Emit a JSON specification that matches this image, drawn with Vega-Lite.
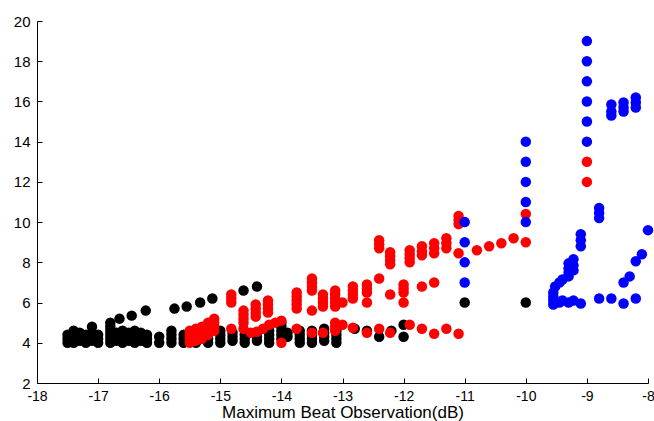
{
  "$schema": "https://vega.github.io/schema/vega-lite/v6.json",
  "width": 611,
  "height": 362,
  "autosize": {"type": "none"},
  "padding": {"left": 37, "top": 21, "right": 6, "bottom": 38},
  "background": "white",
  "config": {"view": {"stroke": null}, "font": "Liberation Sans"},
  "datasets": {
    "black": [
      {"x": -17.5, "y": 4.0}, {"x": -17.5, "y": 4.2}, {"x": -17.5, "y": 4.4},
      {"x": -17.4, "y": 4.0}, {"x": -17.4, "y": 4.2}, {"x": -17.4, "y": 4.4}, {"x": -17.4, "y": 4.6},
      {"x": -17.3, "y": 4.1}, {"x": -17.3, "y": 4.3}, {"x": -17.3, "y": 4.5},
      {"x": -17.2, "y": 4.0}, {"x": -17.2, "y": 4.2}, {"x": -17.2, "y": 4.4},
      {"x": -17.1, "y": 4.1}, {"x": -17.1, "y": 4.3}, {"x": -17.1, "y": 4.5}, {"x": -17.1, "y": 4.8},
      {"x": -17.0, "y": 4.0}, {"x": -17.0, "y": 4.2}, {"x": -17.0, "y": 4.4},
      {"x": -16.8, "y": 4.0}, {"x": -16.8, "y": 4.2}, {"x": -16.8, "y": 4.4}, {"x": -16.8, "y": 4.6}, {"x": -16.8, "y": 4.8}, {"x": -16.8, "y": 5.0},
      {"x": -16.7, "y": 4.1}, {"x": -16.7, "y": 4.3}, {"x": -16.7, "y": 4.5},
      {"x": -16.6, "y": 4.0}, {"x": -16.6, "y": 4.2}, {"x": -16.6, "y": 4.4}, {"x": -16.6, "y": 4.6},
      {"x": -16.5, "y": 4.1}, {"x": -16.5, "y": 4.3}, {"x": -16.5, "y": 4.5},
      {"x": -16.4, "y": 4.0}, {"x": -16.4, "y": 4.2}, {"x": -16.4, "y": 4.4}, {"x": -16.4, "y": 4.6},
      {"x": -16.3, "y": 4.1}, {"x": -16.3, "y": 4.3}, {"x": -16.3, "y": 4.5},
      {"x": -16.2, "y": 4.0}, {"x": -16.2, "y": 4.2}, {"x": -16.2, "y": 4.4},
      {"x": -16.0, "y": 4.0}, {"x": -16.0, "y": 4.3},
      {"x": -15.8, "y": 4.0}, {"x": -15.8, "y": 4.2}, {"x": -15.8, "y": 4.4}, {"x": -15.8, "y": 4.6},
      {"x": -15.6, "y": 4.0}, {"x": -15.6, "y": 4.2}, {"x": -15.6, "y": 4.4},
      {"x": -16.65, "y": 5.2}, {"x": -16.45, "y": 5.35}, {"x": -16.22, "y": 5.6},
      {"x": -15.75, "y": 5.7}, {"x": -15.55, "y": 5.8}, {"x": -15.33, "y": 6.0}, {"x": -15.13, "y": 6.2},
      {"x": -14.62, "y": 6.6}, {"x": -14.4, "y": 6.8},
      {"x": -15.4, "y": 4.0}, {"x": -15.4, "y": 4.2},
      {"x": -15.2, "y": 4.0}, {"x": -15.2, "y": 4.2},
      {"x": -15.0, "y": 4.0}, {"x": -15.0, "y": 4.2}, {"x": -15.0, "y": 4.4}, {"x": -15.0, "y": 4.6},
      {"x": -14.8, "y": 4.1}, {"x": -14.8, "y": 4.3}, {"x": -14.8, "y": 4.5},
      {"x": -14.6, "y": 4.0}, {"x": -14.6, "y": 4.2}, {"x": -14.6, "y": 4.4},
      {"x": -14.4, "y": 4.1}, {"x": -14.4, "y": 4.3}, {"x": -14.4, "y": 4.5},
      {"x": -14.2, "y": 4.0}, {"x": -14.2, "y": 4.2}, {"x": -14.2, "y": 4.4}, {"x": -14.2, "y": 4.6},
      {"x": -14.0, "y": 4.2}, {"x": -14.0, "y": 4.4}, {"x": -14.0, "y": 4.6}, {"x": -14.0, "y": 4.8}, {"x": -14.0, "y": 5.0},
      {"x": -13.9, "y": 4.3}, {"x": -13.9, "y": 4.5},
      {"x": -13.7, "y": 4.0}, {"x": -13.7, "y": 4.2}, {"x": -13.7, "y": 4.4}, {"x": -13.7, "y": 4.6},
      {"x": -13.5, "y": 4.0}, {"x": -13.5, "y": 4.2}, {"x": -13.5, "y": 4.4}, {"x": -13.5, "y": 4.6},
      {"x": -13.3, "y": 4.1}, {"x": -13.3, "y": 4.3}, {"x": -13.3, "y": 4.5}, {"x": -13.3, "y": 4.7},
      {"x": -13.1, "y": 4.0}, {"x": -13.1, "y": 4.2}, {"x": -13.1, "y": 4.4}, {"x": -13.1, "y": 4.6}, {"x": -13.1, "y": 4.8},
      {"x": -12.8, "y": 4.7}, {"x": -12.6, "y": 4.6}, {"x": -12.4, "y": 4.3}, {"x": -12.2, "y": 4.6},
      {"x": -12.0, "y": 4.9}, {"x": -12.0, "y": 4.3},
      {"x": -11.0, "y": 6.0}, {"x": -10.0, "y": 6.0}
    ],
    "red": [
      {"x": -15.5, "y": 4.0}, {"x": -15.5, "y": 4.2}, {"x": -15.5, "y": 4.4}, {"x": -15.5, "y": 4.6},
      {"x": -15.4, "y": 4.1}, {"x": -15.4, "y": 4.3}, {"x": -15.4, "y": 4.5}, {"x": -15.4, "y": 4.7},
      {"x": -15.3, "y": 4.2}, {"x": -15.3, "y": 4.4}, {"x": -15.3, "y": 4.6}, {"x": -15.3, "y": 4.8},
      {"x": -15.2, "y": 4.4}, {"x": -15.2, "y": 4.6}, {"x": -15.2, "y": 4.8}, {"x": -15.2, "y": 5.0},
      {"x": -15.1, "y": 4.6}, {"x": -15.1, "y": 4.8}, {"x": -15.1, "y": 5.0}, {"x": -15.1, "y": 5.2},
      {"x": -14.82, "y": 6.0}, {"x": -14.82, "y": 6.2}, {"x": -14.82, "y": 6.4}, {"x": -14.82, "y": 4.7},
      {"x": -14.62, "y": 5.0}, {"x": -14.62, "y": 5.2}, {"x": -14.62, "y": 5.4}, {"x": -14.62, "y": 5.6}, {"x": -14.62, "y": 4.7},
      {"x": -14.42, "y": 5.3}, {"x": -14.42, "y": 5.5}, {"x": -14.42, "y": 5.7}, {"x": -14.42, "y": 5.9},
      {"x": -14.22, "y": 5.5}, {"x": -14.22, "y": 5.7}, {"x": -14.22, "y": 5.9}, {"x": -14.22, "y": 6.1},
      {"x": -14.5, "y": 4.5}, {"x": -14.4, "y": 4.55}, {"x": -14.3, "y": 4.7}, {"x": -14.2, "y": 4.9},
      {"x": -14.1, "y": 5.0}, {"x": -14.0, "y": 5.1}, {"x": -14.0, "y": 4.0},
      {"x": -13.75, "y": 4.7}, {"x": -13.75, "y": 5.7}, {"x": -13.75, "y": 5.9}, {"x": -13.75, "y": 6.1}, {"x": -13.75, "y": 6.3}, {"x": -13.75, "y": 6.5},
      {"x": -13.5, "y": 4.5}, {"x": -13.5, "y": 5.6}, {"x": -13.5, "y": 6.6}, {"x": -13.5, "y": 6.8}, {"x": -13.5, "y": 7.0}, {"x": -13.5, "y": 7.2},
      {"x": -13.32, "y": 4.5}, {"x": -13.32, "y": 5.8}, {"x": -13.32, "y": 6.0}, {"x": -13.32, "y": 6.2}, {"x": -13.32, "y": 6.4},
      {"x": -13.12, "y": 4.6}, {"x": -13.12, "y": 4.8}, {"x": -13.12, "y": 5.0}, {"x": -13.12, "y": 5.8}, {"x": -13.12, "y": 6.0}, {"x": -13.12, "y": 6.2}, {"x": -13.12, "y": 6.4}, {"x": -13.12, "y": 6.6},
      {"x": -13.0, "y": 6.0}, {"x": -13.0, "y": 4.9},
      {"x": -12.83, "y": 6.2}, {"x": -12.83, "y": 6.4}, {"x": -12.83, "y": 6.6}, {"x": -12.83, "y": 6.8}, {"x": -12.83, "y": 4.75},
      {"x": -12.6, "y": 6.5}, {"x": -12.6, "y": 6.7}, {"x": -12.6, "y": 6.9}, {"x": -12.6, "y": 6.0}, {"x": -12.6, "y": 4.5},
      {"x": -12.4, "y": 7.2}, {"x": -12.4, "y": 8.7}, {"x": -12.4, "y": 8.9}, {"x": -12.4, "y": 9.1}, {"x": -12.4, "y": 4.7},
      {"x": -12.22, "y": 6.4}, {"x": -12.22, "y": 7.9}, {"x": -12.22, "y": 8.1}, {"x": -12.22, "y": 8.3}, {"x": -12.22, "y": 8.5}, {"x": -12.22, "y": 4.5},
      {"x": -12.0, "y": 6.0}, {"x": -12.0, "y": 6.5}, {"x": -12.0, "y": 6.7}, {"x": -12.0, "y": 6.9},
      {"x": -11.9, "y": 8.0}, {"x": -11.9, "y": 8.2}, {"x": -11.9, "y": 8.4}, {"x": -11.9, "y": 8.6}, {"x": -11.9, "y": 4.9},
      {"x": -11.7, "y": 6.8}, {"x": -11.7, "y": 8.35}, {"x": -11.7, "y": 8.55}, {"x": -11.7, "y": 8.8}, {"x": -11.7, "y": 4.7},
      {"x": -11.5, "y": 7.0}, {"x": -11.5, "y": 8.45}, {"x": -11.5, "y": 8.7}, {"x": -11.5, "y": 8.95}, {"x": -11.5, "y": 4.45},
      {"x": -11.3, "y": 8.7}, {"x": -11.3, "y": 8.95}, {"x": -11.3, "y": 9.2}, {"x": -11.3, "y": 4.7},
      {"x": -11.1, "y": 9.9}, {"x": -11.1, "y": 10.1}, {"x": -11.1, "y": 10.3}, {"x": -11.1, "y": 8.45}, {"x": -11.1, "y": 4.45},
      {"x": -10.8, "y": 8.6}, {"x": -10.6, "y": 8.8}, {"x": -10.4, "y": 8.95}, {"x": -10.2, "y": 9.2},
      {"x": -10.0, "y": 10.4}, {"x": -10.0, "y": 9.0},
      {"x": -9.0, "y": 13.0}, {"x": -9.0, "y": 12.0}
    ],
    "blue": [
      {"x": -11.0, "y": 10.0}, {"x": -11.0, "y": 9.0}, {"x": -11.0, "y": 8.0}, {"x": -11.0, "y": 7.0},
      {"x": -10.0, "y": 10.0}, {"x": -10.0, "y": 11.0}, {"x": -10.0, "y": 12.0}, {"x": -10.0, "y": 13.0}, {"x": -10.0, "y": 14.0},
      {"x": -9.0, "y": 14.0}, {"x": -9.0, "y": 15.0}, {"x": -9.0, "y": 16.0}, {"x": -9.0, "y": 17.0}, {"x": -9.0, "y": 18.0}, {"x": -9.0, "y": 19.0},
      {"x": -9.55, "y": 5.9}, {"x": -9.55, "y": 6.1}, {"x": -9.55, "y": 6.3}, {"x": -9.55, "y": 6.5}, {"x": -9.52, "y": 6.8},
      {"x": -9.45, "y": 6.0}, {"x": -9.45, "y": 7.0},
      {"x": -9.4, "y": 7.15}, {"x": -9.4, "y": 6.1},
      {"x": -9.3, "y": 7.3}, {"x": -9.3, "y": 7.5}, {"x": -9.3, "y": 7.7}, {"x": -9.3, "y": 7.95}, {"x": -9.3, "y": 6.0},
      {"x": -9.22, "y": 8.15}, {"x": -9.22, "y": 7.6}, {"x": -9.22, "y": 7.85}, {"x": -9.22, "y": 6.1},
      {"x": -9.1, "y": 8.8}, {"x": -9.1, "y": 9.1}, {"x": -9.1, "y": 9.4}, {"x": -9.1, "y": 5.95},
      {"x": -8.8, "y": 10.2}, {"x": -8.8, "y": 10.45}, {"x": -8.8, "y": 10.7}, {"x": -8.8, "y": 6.2},
      {"x": -8.6, "y": 15.3}, {"x": -8.6, "y": 15.5}, {"x": -8.6, "y": 15.85}, {"x": -8.6, "y": 6.2},
      {"x": -8.4, "y": 15.5}, {"x": -8.4, "y": 15.7}, {"x": -8.4, "y": 15.95}, {"x": -8.4, "y": 5.95}, {"x": -8.4, "y": 7.0},
      {"x": -8.3, "y": 7.3},
      {"x": -8.2, "y": 15.7}, {"x": -8.2, "y": 15.95}, {"x": -8.2, "y": 16.2}, {"x": -8.2, "y": 6.2}, {"x": -8.2, "y": 8.05},
      {"x": -8.1, "y": 8.4},
      {"x": -8.0, "y": 9.6}
    ]
  },
  "layer": [
    {
      "data": {"name": "black"},
      "mark": {"type": "circle", "size": 110, "opacity": 1, "color": "#000000"},
      "encoding": {
        "x": {"field": "x", "type": "quantitative", "scale": {"domain": [-18, -8], "nice": false, "zero": false},
          "axis": {"values": [-18, -17, -16, -15, -14, -13, -12, -11, -10, -9, -8], "labelExpr": "'' + datum.value", "grid": false, "tickSize": -5, "labelPadding": 11,
            "domainColor": "#000", "tickColor": "#000", "labelColor": "#000", "labelFontSize": 14, "labelFont": "Liberation Sans",
            "title": "Maximum Beat Observation(dB)", "titleFontSize": 17, "titleFontWeight": "normal", "titleColor": "#000", "titleFont": "Liberation Sans", "titlePadding": 1, "labelFlush": false}},
        "y": {"field": "y", "type": "quantitative", "scale": {"domain": [2, 20], "nice": false, "zero": false},
          "axis": {"values": [2, 4, 6, 8, 10, 12, 14, 16, 18, 20], "labelExpr": "'' + datum.value", "grid": false, "tickSize": -5, "labelPadding": 12,
            "domainColor": "#000", "tickColor": "#000", "labelColor": "#000", "labelFontSize": 15, "labelFont": "Liberation Sans", "title": null, "labelFlush": false}}
      }
    },
    {
      "data": {"name": "red"},
      "mark": {"type": "circle", "size": 110, "opacity": 1, "color": "#ff0000"},
      "encoding": {"x": {"field": "x", "type": "quantitative"}, "y": {"field": "y", "type": "quantitative"}}
    },
    {
      "data": {"name": "blue"},
      "mark": {"type": "circle", "size": 110, "opacity": 1, "color": "#0000ff"},
      "encoding": {"x": {"field": "x", "type": "quantitative"}, "y": {"field": "y", "type": "quantitative"}}
    }
  ]
}
